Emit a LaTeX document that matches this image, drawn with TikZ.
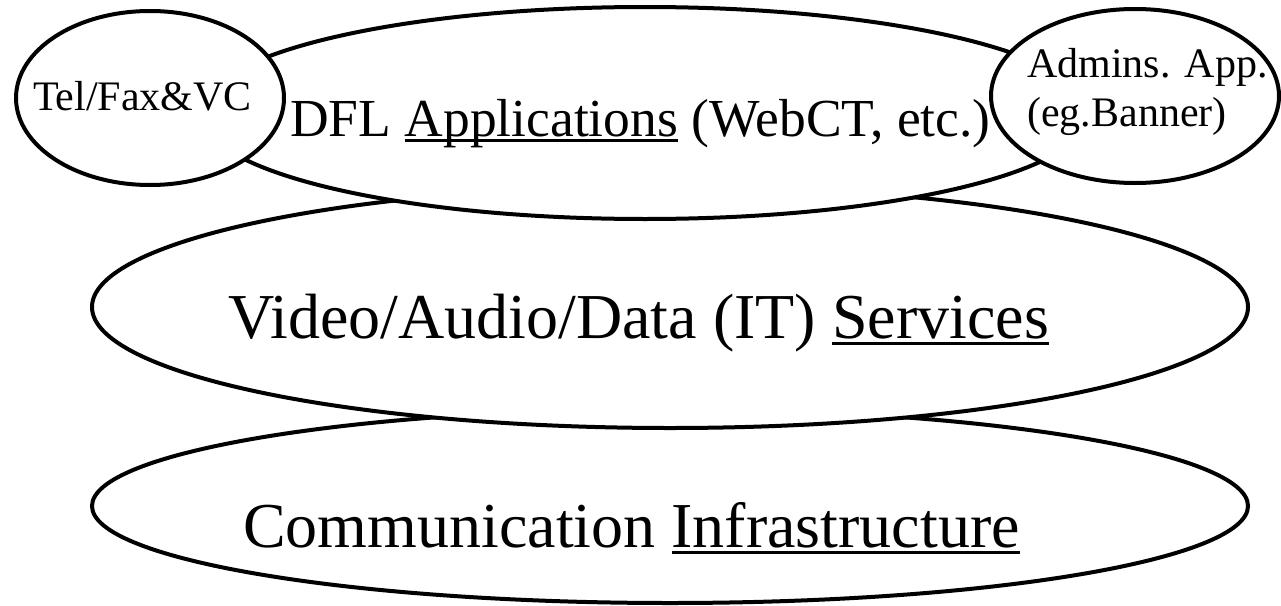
\documentclass[tikz,border=0pt]{standalone}
\usepackage{fontspec}
\setmainfont{Liberation Serif}
\usepackage{tikz}
\usetikzlibrary{shapes.geometric}
\tikzstyle{layer} = [ellipse,draw,line width=4pt,fill=white,inner sep=0pt]
\newcommand{\undl}[1]{\setbox0\hbox{#1}\rlap{\rule[-0.11em]{\wd0}{0.045em}}\box0{}}
\newcommand{\bigtxt}{\fontsize{64}{70}\selectfont}
\newcommand{\midtxt}{\fontsize{53.5}{60}\selectfont}
\newcommand{\smalltxt}{\fontsize{42}{49}\selectfont}

\begin{document}
\begin{tikzpicture}[x=1pt,y=-1pt]
\useasboundingbox (0,0) rectangle (1281,605);

\node[layer,minimum width=1156pt,minimum height=194pt] (infra) at (670,506) {};
\node[anchor=base west,inner sep=0pt,font=\bigtxt] (infratext) at (243,547) {Communication \undl{Infrastructure}};

\node[layer,minimum width=1156pt,minimum height=242pt] (services) at (670,307) {};
\node[anchor=base west,inner sep=0pt,font=\bigtxt] (servicestext) at (228,338) {Video/Audio/Data (IT) \undl{Services}};

\node[layer,minimum width=890pt,minimum height=212pt] (apps) at (645,113) {};
\node[anchor=base west,inner sep=0pt,font=\midtxt] (appstext) at (290,136) {DFL \undl{Applications} (WebCT, etc.)};

\node[layer,minimum width=268pt,minimum height=174pt] (tel) at (150,98) {};
\node[anchor=base west,inner sep=0pt,font=\smalltxt] (teltext) at (33,110) {Tel/Fax\&VC};

\node[layer,minimum width=288pt,minimum height=174pt] (admin) at (1135,96) {};
\node[anchor=base west,inner sep=0pt,font=\smalltxt,align=left] (admintext) at (1027,126) {Admins. App.\\(eg.Banner)};

\end{tikzpicture}
\end{document}
